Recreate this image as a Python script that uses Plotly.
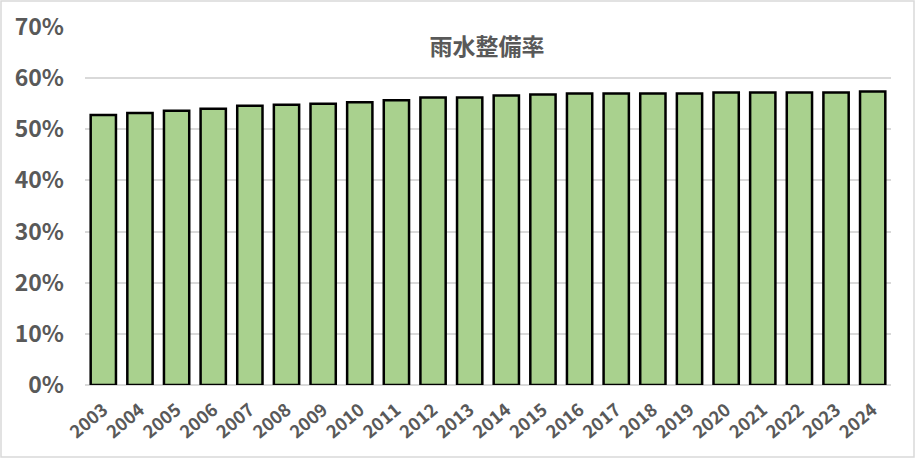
import plotly.graph_objects as go

years = [str(y) for y in range(2003, 2025)]
rates = [0.528, 0.532, 0.536, 0.540, 0.546, 0.548, 0.550, 0.553, 0.557, 0.562,
         0.562, 0.566, 0.568, 0.570, 0.570, 0.570, 0.570, 0.572, 0.572, 0.572,
         0.572, 0.574]
title_text = "雨水整備率"

W, H = 916, 459
ML, MR, MT, MB = 85, 25, 27, 74
PW, PH = W - ML - MR, H - MT - MB

def px(x):
    return (x - ML) / PW

def py(y):
    return (H - MB - y) / PH

font = "Noto Sans CJK JP, sans-serif"
grey = "#595959"

fig = go.Figure(go.Bar(
    x=years, y=rates,
    marker=dict(color="#A9D18E", line=dict(color="#000000", width=2.5)),
))

fig.update_layout(
    width=W, height=H,
    margin=dict(l=ML, r=MR, t=MT, b=MB),
    paper_bgcolor="white", plot_bgcolor="white",
    bargap=0.31,
    showlegend=False,
    title=dict(text="<b>" + title_text + "</b>", x=px(487), xref="paper",
               xanchor="center", y=1 - 47 / H, yanchor="middle",
               font=dict(family=font, size=23, color=grey)),
    font=dict(family=font, color=grey),
    shapes=[dict(type="rect", xref="paper", yref="paper",
                 x0=px(1), x1=px(914), y0=py(457), y1=py(1),
                 line=dict(color="#D9D9D9", width=1.5), layer="below")],
)
fig.update_yaxes(range=[0, 0.7], dtick=0.1, tickformat=".0%",
                 gridcolor="#D9D9D9", gridwidth=1.5, zeroline=True,
                 zerolinecolor="#D9D9D9", zerolinewidth=1.5,
                 showline=False, ticks="", ticklabelstandoff=20,
                 automargin=False,
                 tickfont=dict(family=font, size=23, color=grey, weight="bold"))
fig.update_xaxes(tickangle=-40, showline=False, ticks="", automargin=False,
                 ticklabelstandoff=10,
                 tickfont=dict(family=font, size=18, color=grey, weight="bold"))

fig.write_html("out.html", config={"displayModeBar": False},
               post_script="document.body.style.margin='0';document.body.style.overflow='hidden';")
